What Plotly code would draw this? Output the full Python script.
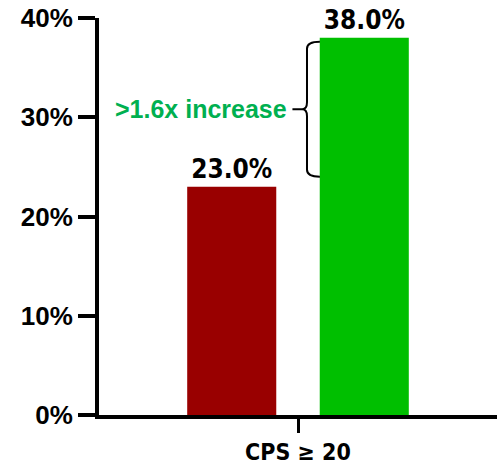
import plotly.graph_objects as go

# Response rates by treatment arm for the CPS >= 20 subgroup
category = ["CPS ≥ 20"]
control_rate = [23.0]
treatment_rate = [38.0]
y_ticks = [0, 10, 20, 30, 40]
y_tick_labels = ["0%", "10%", "20%", "30%", "40%"]
increase_label = ">1.6x increase"
brace_low, brace_high = 24.0, 37.6

RED = "#990000"
GREEN = "#00BF00"
TEXT_GREEN = "#00B050"
NARROW = "DejaVu Sans Condensed, Liberation Sans Narrow, Arial Narrow, sans-serif"
WIDE = "Liberation Sans, Arial"

fig = go.Figure()
for vals, color in [(control_rate, RED), (treatment_rate, GREEN)]:
    fig.add_trace(go.Bar(
        x=category, y=vals, marker=dict(color=color, line=dict(width=0)),
        text=[f"{v:.1f}%" for v in vals], textposition="outside",
        textfont=dict(family=NARROW, size=26, color="black", weight="bold"),
        cliponaxis=False, showlegend=False,
    ))

# curly brace spanning the gap between the two bars, tips pointing right
xm, xt, xp = 0.5226, 0.555, 0.486   # spine, tips, middle point (paper x)
ym = (brace_low + brace_high) / 2
r = 0.7
path = (f"M {xt},{brace_high} Q {xm},{brace_high} {xm},{brace_high - r} "
        f"L {xm},{ym + r} Q {xm},{ym} {xm - 0.012},{ym} L {xp},{ym} "
        f"M {xm - 0.012},{ym} Q {xm},{ym} {xm},{ym - r} "
        f"L {xm},{brace_low + r} Q {xm},{brace_low} {xt},{brace_low}")
fig.add_shape(type="path", path=path, xref="paper", yref="y",
              line=dict(color="black", width=2))

fig.add_annotation(x=0.478, y=ym, xref="paper", yref="y", text=increase_label,
                   showarrow=False, xanchor="right", yanchor="middle",
                   font=dict(family=WIDE, size=25, color=TEXT_GREEN, weight="bold"))

fig.update_layout(
    width=497, height=465,
    margin=dict(l=99, r=0, t=18, b=50),
    paper_bgcolor="white", plot_bgcolor="white",
    barmode="group", bargap=0.334, bargroupgap=0.328,
    xaxis=dict(showline=True, linecolor="black", linewidth=3.5,
               ticks="outside", ticklen=14, tickwidth=3, tickcolor="black",
               tickfont=dict(family=NARROW, size=23, color="black", weight="bold"),
               showgrid=False, automargin=False),
    yaxis=dict(range=[0, 40], tickvals=y_ticks, ticktext=y_tick_labels,
               showline=True, linecolor="black", linewidth=4,
               ticks="outside", ticklen=17, tickwidth=4, tickcolor="black",
               tickfont=dict(family=WIDE, size=26, color="black", weight="bold"),
               showgrid=False, zeroline=False, automargin=False),
)

fig.write_html("out.html")
